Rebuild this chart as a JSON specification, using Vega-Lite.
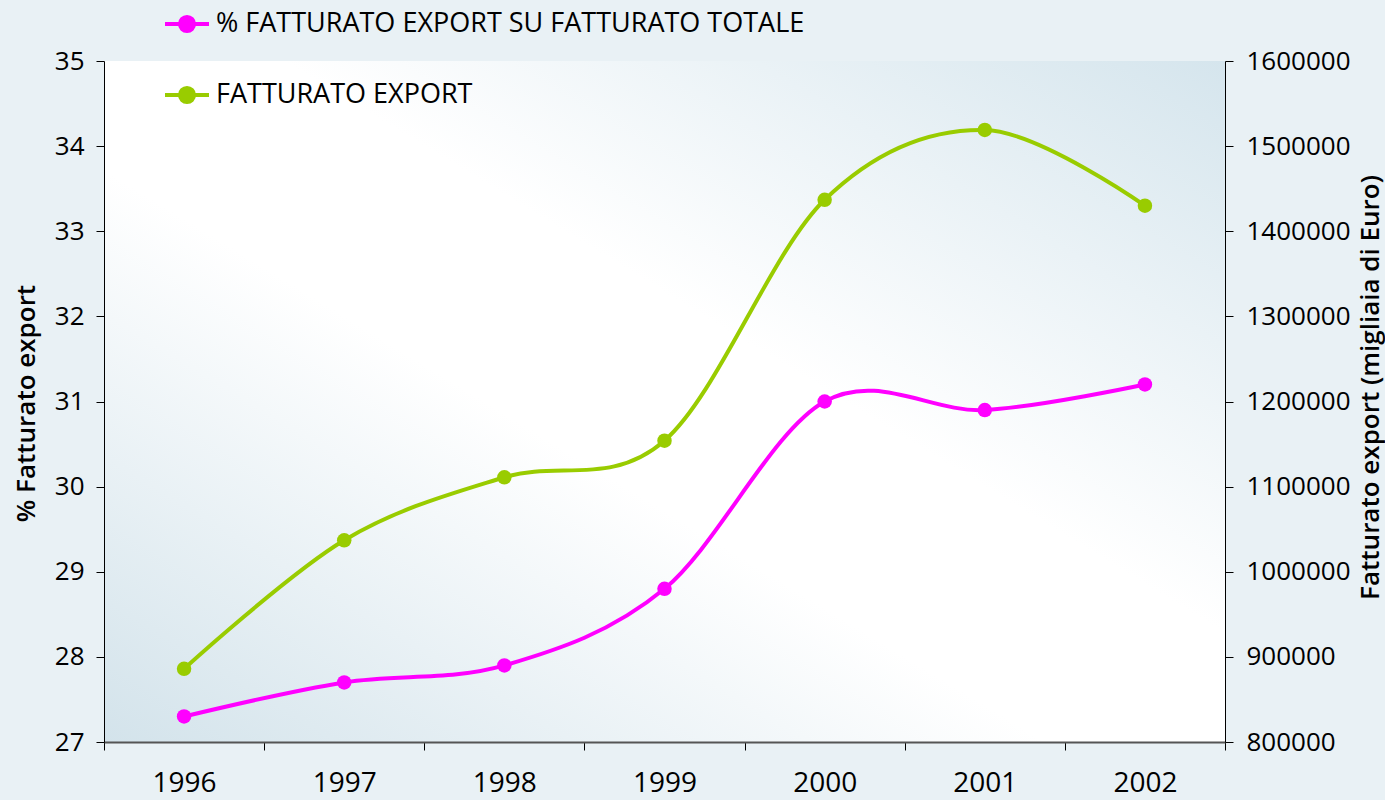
{
  "$schema": "https://vega.github.io/schema/vega-lite/v6.json",
  "autosize": {"type": "none"},
  "width": 1121,
  "height": 681,
  "padding": {"left": 104, "top": 61, "right": 160, "bottom": 58},
  "background": "#e9f1f5",
  "config": {
    "font": "Open Sans",
    "view": {
      "stroke": null,
      "fill": {
        "gradient": "linear",
        "x1": 0, "y1": 1, "x2": 1, "y2": 0,
        "stops": [
          {"offset": 0, "color": "#d3e3eb"},
          {"offset": 0.42, "color": "#ffffff"},
          {"offset": 0.58, "color": "#ffffff"},
          {"offset": 1, "color": "#d5e5ed"}
        ]
      }
    },
    "axis": {
      "labelColor": "#000000",
      "titleColor": "#000000",
      "tickColor": "#000000",
      "domainColor": "#000000",
      "tickSize": 8,
      "grid": false
    }
  },
  "data": {
    "values": [
      {"anno": "1996", "serie": "% FATTURATO EXPORT SU FATTURATO TOTALE", "valore": 27.3},
      {"anno": "1997", "serie": "% FATTURATO EXPORT SU FATTURATO TOTALE", "valore": 27.7},
      {"anno": "1998", "serie": "% FATTURATO EXPORT SU FATTURATO TOTALE", "valore": 27.9},
      {"anno": "1999", "serie": "% FATTURATO EXPORT SU FATTURATO TOTALE", "valore": 28.8},
      {"anno": "2000", "serie": "% FATTURATO EXPORT SU FATTURATO TOTALE", "valore": 31.0},
      {"anno": "2001", "serie": "% FATTURATO EXPORT SU FATTURATO TOTALE", "valore": 30.9},
      {"anno": "2002", "serie": "% FATTURATO EXPORT SU FATTURATO TOTALE", "valore": 31.2},
      {"anno": "1996", "serie": "FATTURATO EXPORT", "valore": 886000},
      {"anno": "1997", "serie": "FATTURATO EXPORT", "valore": 1037000},
      {"anno": "1998", "serie": "FATTURATO EXPORT", "valore": 1111000},
      {"anno": "1999", "serie": "FATTURATO EXPORT", "valore": 1154000},
      {"anno": "2000", "serie": "FATTURATO EXPORT", "valore": 1437000},
      {"anno": "2001", "serie": "FATTURATO EXPORT", "valore": 1519000},
      {"anno": "2002", "serie": "FATTURATO EXPORT", "valore": 1430000}
    ]
  },
  "encoding": {
    "x": {
      "field": "anno",
      "type": "ordinal",
      "scale": {"type": "band", "paddingInner": 0, "paddingOuter": 0},
      "axis": {
        "title": null,
        "labelAngle": 0,
        "labelFontSize": 28,
        "labelPadding": 19,
        "tickBand": "extent",
        "domainColor": "#555555",
        "domainWidth": 2
      }
    },
    "color": {
      "field": "serie",
      "type": "nominal",
      "scale": {
        "domain": ["% FATTURATO EXPORT SU FATTURATO TOTALE", "FATTURATO EXPORT"],
        "range": ["#ff00ff", "#99cc00"]
      },
      "legend": {
        "title": null,
        "orient": "none",
        "legendX": 59,
        "legendY": -61,
        "padding": 0,
        "symbolType": "M-1,0H1M-0.32,0a0.32,0.32 0 1,0 0.64,0a0.32,0.32 0 1,0 -0.64,0Z",
        "symbolSize": 1936,
        "symbolStrokeWidth": 4,
        "labelFontSize": 27,
        "labelColor": "#000000",
        "labelOffset": 5,
        "rowPadding": 31,
        "labelLimit": 0,
        "encode": {
          "symbols": {
            "update": {
              "fill": {"scale": "color", "field": "value"},
              "stroke": {"scale": "color", "field": "value"},
              "fillOpacity": {"value": 1},
              "strokeOpacity": {"value": 1}
            }
          }
        }
      }
    }
  },
  "layer": [
    {
      "transform": [{"filter": "datum.serie === '% FATTURATO EXPORT SU FATTURATO TOTALE'"}],
      "encoding": {
        "y": {
          "field": "valore",
          "type": "quantitative",
          "scale": {"domain": [27, 35], "zero": false, "nice": false},
          "axis": {
            "orient": "left",
            "values": [27, 28, 29, 30, 31, 32, 33, 34, 35],
            "labelFontSize": 26,
            "labelPadding": 12,
            "title": "% Fatturato export",
            "titleFontSize": 26,
            "titleFontWeight": 600,
            "titleAngle": 270,
            "titleAlign": "center",
            "titleBaseline": "alphabetic",
            "titleX": -70,
            "titleY": 342
          }
        }
      },
      "layer": [
        {"mark": {"type": "line", "interpolate": "cardinal", "strokeWidth": 4}},
        {"mark": {"type": "point", "filled": true, "size": 210, "opacity": 1}}
      ]
    },
    {
      "transform": [{"filter": "datum.serie === 'FATTURATO EXPORT'"}],
      "encoding": {
        "y": {
          "field": "valore",
          "type": "quantitative",
          "scale": {"domain": [800000, 1600000], "zero": false, "nice": false},
          "axis": {
            "orient": "right",
            "values": [800000, 900000, 1000000, 1100000, 1200000, 1300000, 1400000, 1500000, 1600000],
            "format": "d",
            "labelFontSize": 26,
            "labelPadding": 13,
            "title": "Fatturato export (migliaia di Euro)",
            "titleFontSize": 26,
            "titleFontWeight": 600,
            "titleAngle": 270,
            "titleAlign": "center",
            "titleBaseline": "alphabetic",
            "titleX": 153,
            "titleY": 326
          }
        }
      },
      "layer": [
        {"mark": {"type": "line", "interpolate": "cardinal", "strokeWidth": 4}},
        {"mark": {"type": "point", "filled": true, "size": 210, "opacity": 1}}
      ]
    }
  ],
  "resolve": {"scale": {"y": "independent"}}
}
